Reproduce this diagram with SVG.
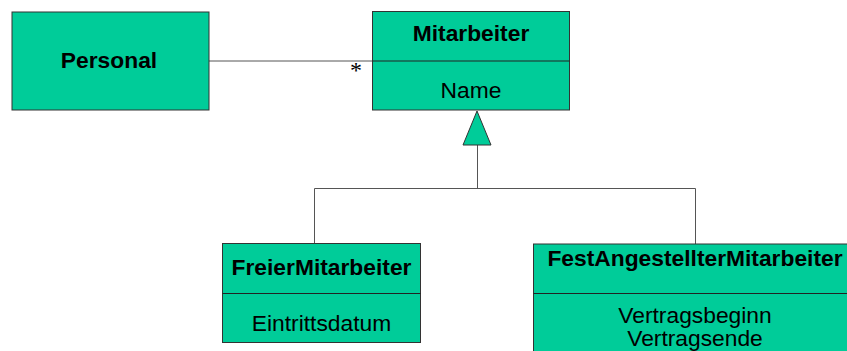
<svg xmlns="http://www.w3.org/2000/svg" width="847" height="351" viewBox="0 0 847 351">
  <style>
    .box { fill: #00cc99; stroke: #333333; stroke-width: 1; }
    .sep { stroke: #222222; stroke-width: 1; }
    .conn { fill: none; stroke: #555555; stroke-width: 1; }
    .title { font-family: "Liberation Sans", Arial, sans-serif; font-size: 22.8px; font-weight: bold; fill: #000; text-anchor: middle; }
    .attr { font-family: "Liberation Sans", Arial, sans-serif; font-size: 22.8px; fill: #000; text-anchor: middle; }
    .mult { font-family: "Liberation Serif", "Times New Roman", serif; font-size: 24px; fill: #000; text-anchor: middle; }
  </style>

  <!-- connectors -->
  <g id="connectors">
    <line class="conn" x1="209" y1="61" x2="373" y2="61"/>
    <text class="mult" x="356" y="78">*</text>
    <polyline class="conn" points="314.5,243 314.5,188.5 695.5,188.5 695.5,244"/>
    <line class="conn" x1="477.5" y1="145" x2="477.5" y2="188.5"/>
    <polygon points="477,111 463,145 491,145" fill="#00cc99" stroke="#333333" stroke-width="1"/>
  </g>

  <g id="personal">
    <rect class="box" x="12" y="12" width="197" height="98"/>
    <text class="title" x="109" y="67.5">Personal</text>
  </g>

  <g id="mitarbeiter">
    <rect class="box" x="372.5" y="11.5" width="197" height="98.5"/>
    <line class="sep" x1="372.5" y1="61" x2="569.5" y2="61"/>
    <text class="title" x="471" y="41">Mitarbeiter</text>
    <text class="attr" x="471" y="98">Name</text>
  </g>

  <g id="freier-mitarbeiter">
    <rect class="box" x="222.5" y="243.5" width="198" height="99"/>
    <line class="sep" x1="222.5" y1="293.5" x2="420.5" y2="293.5"/>
    <text class="title" x="321.5" y="274.5">FreierMitarbeiter</text>
    <text class="attr" x="321.5" y="330.5">Eintrittsdatum</text>
  </g>

  <g id="fest-angestellter-mitarbeiter">
    <rect class="box" x="533.5" y="244" width="324" height="120"/>
    <line class="sep" x1="533.5" y1="293.5" x2="857.5" y2="293.5"/>
    <text class="title" x="695" y="266">FestAngestellterMitarbeiter</text>
    <text class="attr" x="695" y="322.5">Vertragsbeginn</text>
    <text class="attr" x="695" y="346">Vertragsende</text>
  </g>
</svg>
